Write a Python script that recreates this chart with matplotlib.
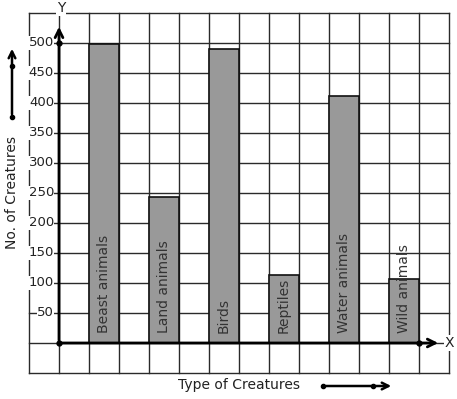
import matplotlib
matplotlib.use("Agg")
import matplotlib.pyplot as plt

categories = ["Beast animals", "Land animals", "Birds", "Reptiles", "Water animals", "Wild animals"]
values = [498, 244, 490, 113, 412, 106]
yticks = [50, 100, 150, 200, 250, 300, 350, 400, 450, 500]
ytick_labels = ["50", "100", "150", "200", "250", "300", "350", "400", "450", "500"]

W, H = 457, 399
fig = plt.figure(figsize=(W / 100, H / 100), dpi=100)
ax = fig.add_axes([0, 0, 1, 1])
ax.set_axis_off()

# pixel mapping: x pixel 29 -> -1, 30 px per unit; y pixel 343 -> 0, 30 px per 50 units
def px_to_x(px):
    return -1 + (px - 29) / 30.0

def py_to_y(py):
    return (343 - py) * 50 / 30.0

ax.set_xlim(px_to_x(0), px_to_x(W))
ax.set_ylim(py_to_y(H), py_to_y(0))

grid_c = "#2a2a2a"
txt_c = "#222222"
# grid
for gx in range(-1, 14):
    ax.plot([gx, gx], [-50, 550], color=grid_c, lw=1.0, zorder=1)
for gy in range(-50, 551, 50):
    ax.plot([-1, 13], [gy, gy], color=grid_c, lw=1.0, zorder=1)

# bars
xs = [1.5 + 2 * i for i in range(len(categories))]
ax.bar(xs, values, width=1.0, color="#999999", edgecolor="#111111", linewidth=1.2, zorder=2)
for x, lab in zip(xs, categories):
    ax.text(x, py_to_y(333), lab, rotation=90, ha="center", va="bottom",
            fontsize=10, color="#333333", zorder=4)

# axes
ax.annotate("", xy=(0, py_to_y(24)), xytext=(0, 0),
            arrowprops=dict(arrowstyle="->", lw=2, color="black", mutation_scale=14), zorder=5)
ax.annotate("", xy=(px_to_x(441), 0), xytext=(0, 0),
            arrowprops=dict(arrowstyle="->", lw=2, color="black", mutation_scale=14), zorder=5)
ax.plot([0, 0, px_to_x(419)], [0, 500, 0], "o", color="black", ms=3.5, zorder=6)
ax.text(px_to_x(61), py_to_y(8), "Y", ha="center", va="center", fontsize=10, color=txt_c,
        bbox=dict(facecolor="white", edgecolor="none", pad=0.5), zorder=6)
ax.text(px_to_x(449), 0, "X", ha="center", va="center", fontsize=10, color=txt_c,
        bbox=dict(facecolor="white", edgecolor="none", pad=0.5), zorder=6)

# tick labels
for v, lab in zip(yticks, ytick_labels):
    ax.text(px_to_x(54), v, lab, ha="right", va="center", fontsize=9.5, color=txt_c,
            bbox=dict(facecolor="white", edgecolor="none", pad=0.3), zorder=3)

# side annotations
ax.text(px_to_x(12), py_to_y(193), "No. of Creatures", rotation=90, ha="center", va="center",
        fontsize=10, color=txt_c)
ax.annotate("", xy=(px_to_x(12), py_to_y(46)), xytext=(px_to_x(12), py_to_y(117)),
            arrowprops=dict(arrowstyle="->", lw=1.8, color="black", mutation_scale=12))
ax.plot([px_to_x(12), px_to_x(12)], [py_to_y(117), py_to_y(66)], "o", color="black", ms=3)

ax.text(px_to_x(239), py_to_y(385), "Type of Creatures", ha="center", va="center",
        fontsize=10, color=txt_c)
ax.annotate("", xy=(px_to_x(394), py_to_y(386)), xytext=(px_to_x(323), py_to_y(386)),
            arrowprops=dict(arrowstyle="->", lw=1.8, color="black", mutation_scale=12))
ax.plot([px_to_x(323), px_to_x(373)], [py_to_y(386), py_to_y(386)], "o", color="black", ms=3)

fig.savefig("out.png", dpi=100, facecolor="white")
